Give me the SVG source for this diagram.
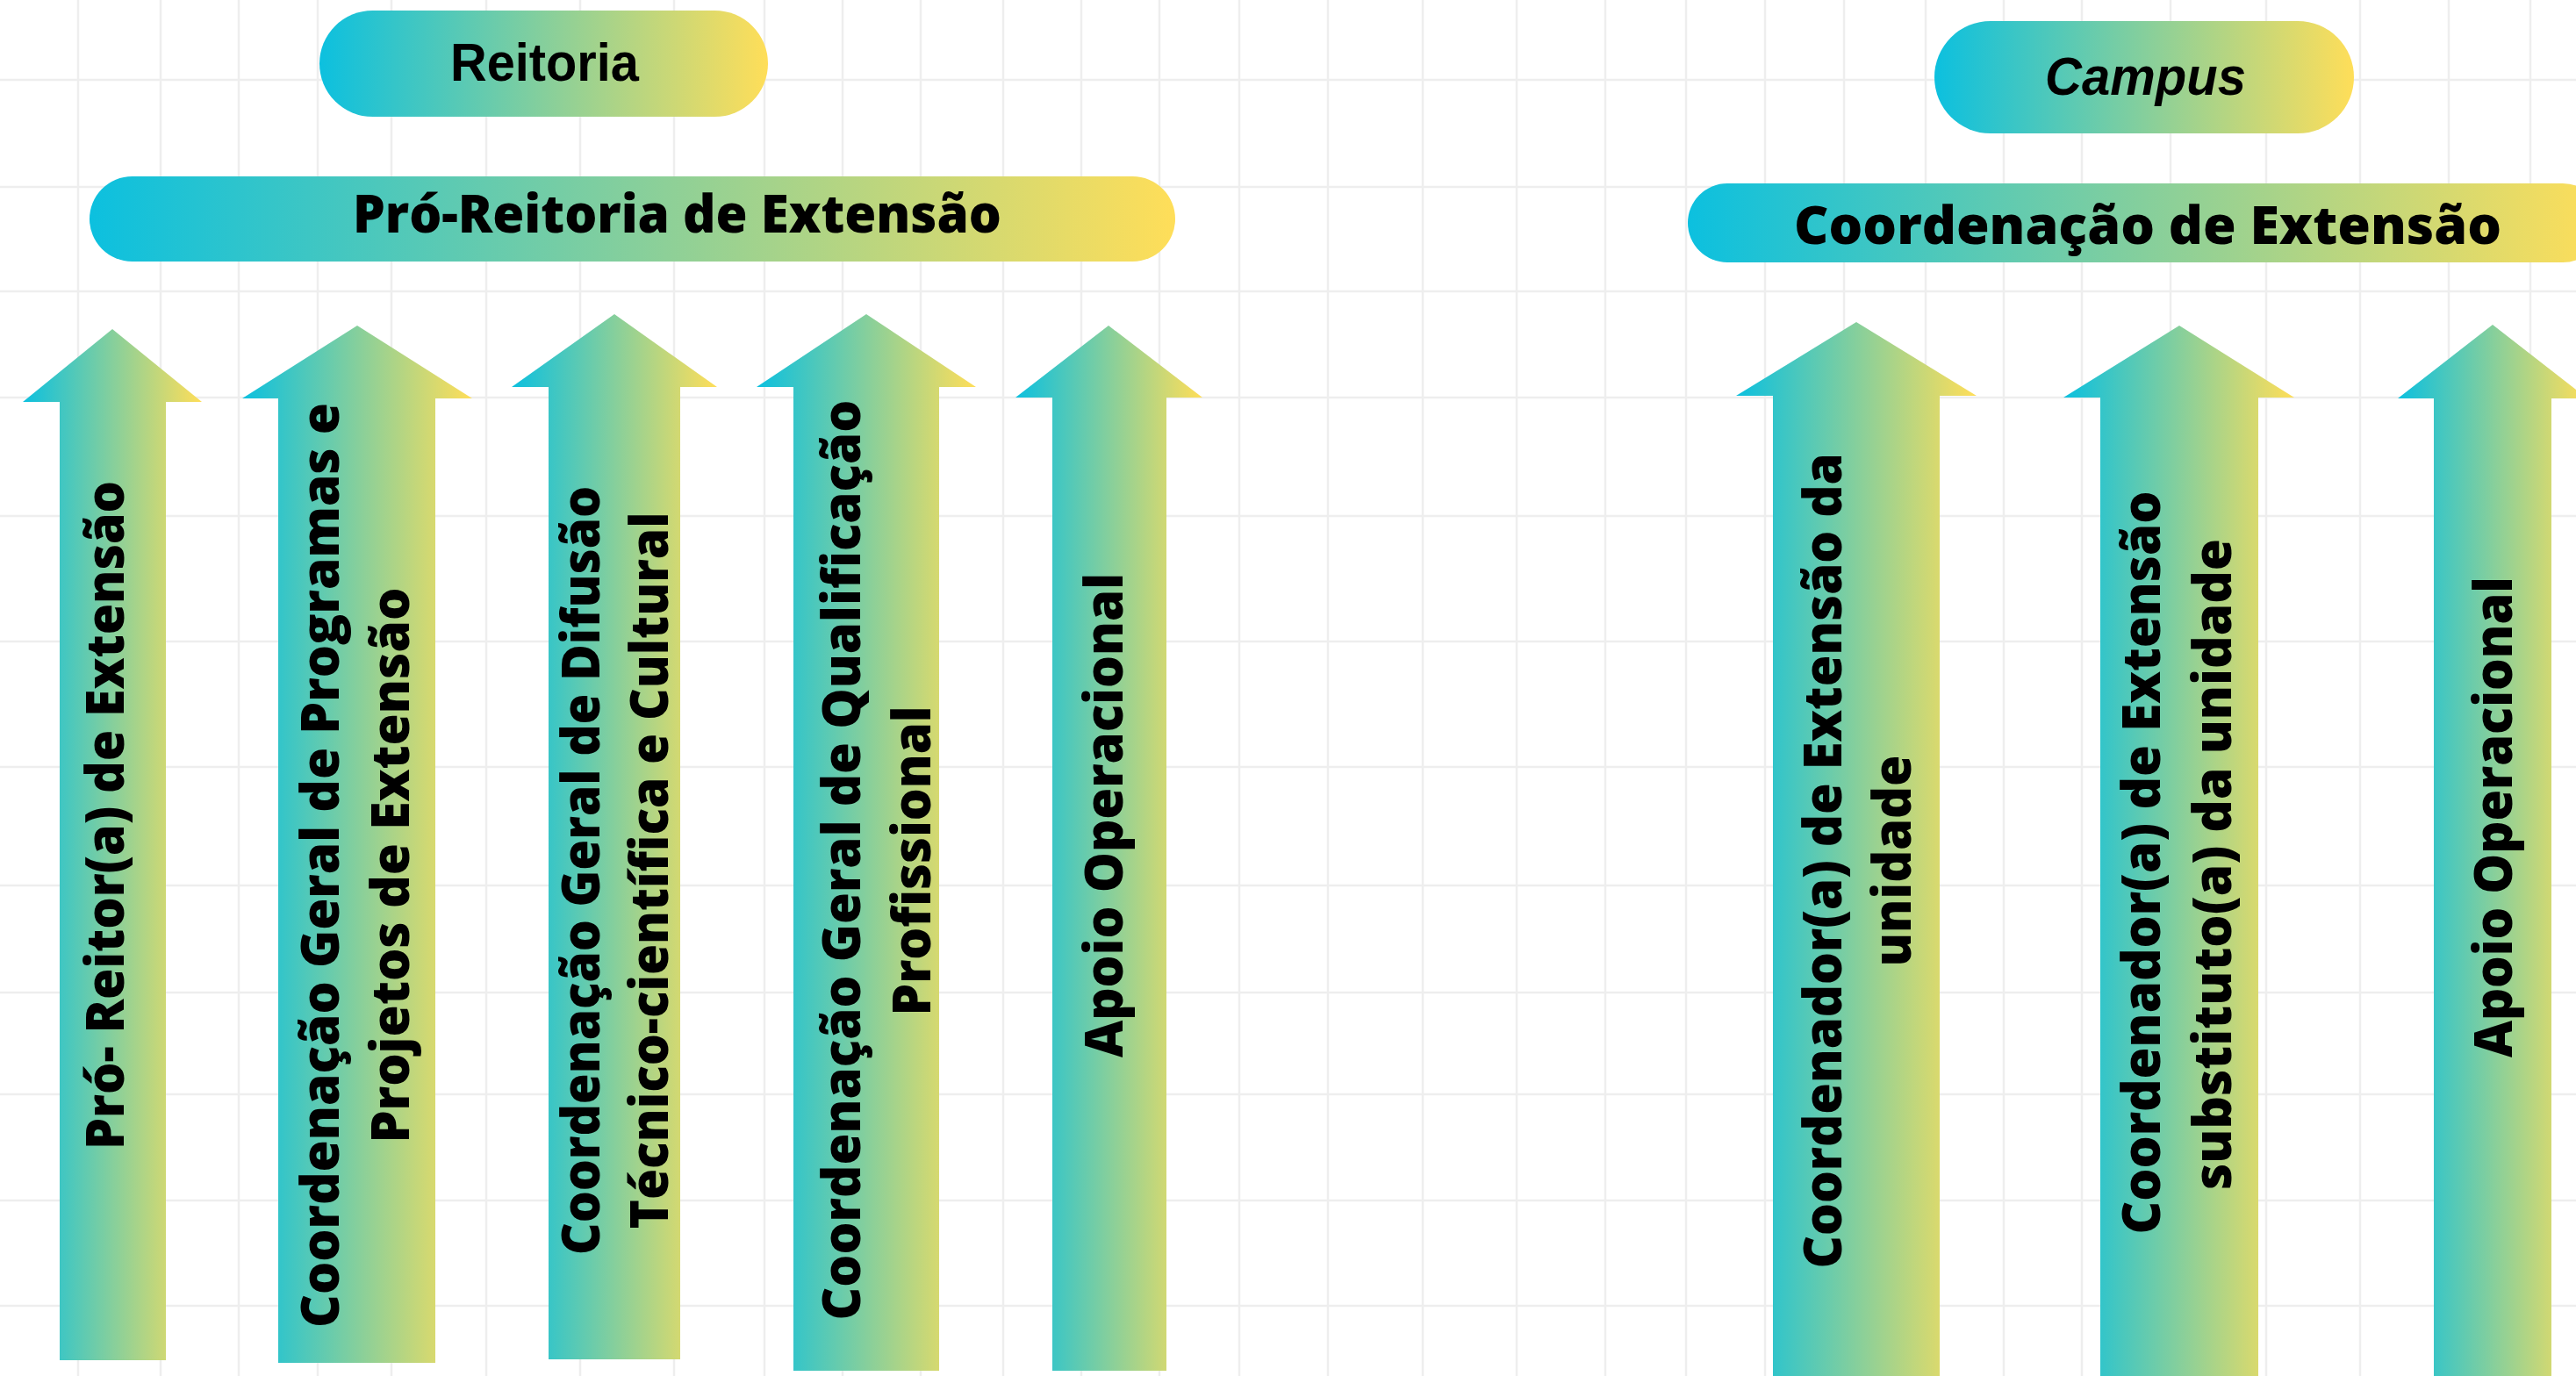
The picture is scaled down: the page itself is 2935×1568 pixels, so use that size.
<svg xmlns="http://www.w3.org/2000/svg" width="2935" height="1568" viewBox="0 0 2935 1568">
  <defs>
    <linearGradient id="grad" x1="0" y1="0" x2="1" y2="0">
      <stop offset="0" stop-color="#0cc0df"/>
      <stop offset="1" stop-color="#ffde59"/>
    </linearGradient>
    <style>
      .grid line { stroke: #eeeeee; stroke-width: 2.5; }
      .shape { fill: url(#grad); }
      .lbl { font-family: "Open Sans", "Noto Sans", "DejaVu Sans", sans-serif; font-weight: 800; font-size: 61px; fill: #000; }
      .head { font-family: "Liberation Sans", Arial, sans-serif; font-weight: 700; font-size: 61px; fill: #000; }
    </style>
  </defs>
  <rect width="2935" height="1568" fill="#ffffff"/>
  <g class="grid">
    <line x1="89" y1="0" x2="89" y2="1568"/>
    <line x1="183" y1="0" x2="183" y2="1568"/>
    <line x1="272" y1="0" x2="272" y2="1568"/>
    <line x1="362" y1="0" x2="362" y2="1568"/>
    <line x1="446" y1="0" x2="446" y2="1568"/>
    <line x1="554" y1="0" x2="554" y2="1568"/>
    <line x1="661" y1="0" x2="661" y2="1568"/>
    <line x1="768" y1="0" x2="768" y2="1568"/>
    <line x1="871" y1="0" x2="871" y2="1568"/>
    <line x1="960" y1="0" x2="960" y2="1568"/>
    <line x1="1049" y1="0" x2="1049" y2="1568"/>
    <line x1="1143" y1="0" x2="1143" y2="1568"/>
    <line x1="1232" y1="0" x2="1232" y2="1568"/>
    <line x1="1321" y1="0" x2="1321" y2="1568"/>
    <line x1="1412" y1="0" x2="1412" y2="1568"/>
    <line x1="1513" y1="0" x2="1513" y2="1568"/>
    <line x1="1621" y1="0" x2="1621" y2="1568"/>
    <line x1="1728" y1="0" x2="1728" y2="1568"/>
    <line x1="1829" y1="0" x2="1829" y2="1568"/>
    <line x1="1921" y1="0" x2="1921" y2="1568"/>
    <line x1="2011" y1="0" x2="2011" y2="1568"/>
    <line x1="2101" y1="0" x2="2101" y2="1568"/>
    <line x1="2194" y1="0" x2="2194" y2="1568"/>
    <line x1="2283" y1="0" x2="2283" y2="1568"/>
    <line x1="2372" y1="0" x2="2372" y2="1568"/>
    <line x1="2473" y1="0" x2="2473" y2="1568"/>
    <line x1="2582" y1="0" x2="2582" y2="1568"/>
    <line x1="2689" y1="0" x2="2689" y2="1568"/>
    <line x1="2790" y1="0" x2="2790" y2="1568"/>
    <line x1="2883" y1="0" x2="2883" y2="1568"/>
    <line x1="0" y1="91" x2="2935" y2="91"/>
    <line x1="0" y1="213" x2="2935" y2="213"/>
    <line x1="0" y1="332" x2="2935" y2="332"/>
    <line x1="0" y1="453" x2="2935" y2="453"/>
    <line x1="0" y1="588" x2="2935" y2="588"/>
    <line x1="0" y1="731" x2="2935" y2="731"/>
    <line x1="0" y1="874" x2="2935" y2="874"/>
    <line x1="0" y1="1009" x2="2935" y2="1009"/>
    <line x1="0" y1="1131" x2="2935" y2="1131"/>
    <line x1="0" y1="1247" x2="2935" y2="1247"/>
    <line x1="0" y1="1368" x2="2935" y2="1368"/>
    <line x1="0" y1="1488" x2="2935" y2="1488"/>
  </g>

  <g id="reitoria">
    <rect class="shape" x="364" y="12" width="511" height="121" rx="60.5"/>
    <text class="head" x="513" y="92" textLength="215" lengthAdjust="spacingAndGlyphs">Reitoria</text>
  </g>
  <g id="pro-reitoria">
    <rect class="shape" x="102" y="201" width="1237" height="97" rx="48.5"/>
    <text class="lbl" x="402" y="265" textLength="739" lengthAdjust="spacingAndGlyphs">Pró-Reitoria de Extensão</text>
  </g>
  <g id="campus">
    <rect class="shape" x="2204" y="24" width="478" height="128" rx="64"/>
    <text class="head" font-style="italic" x="2330" y="108" textLength="229" lengthAdjust="spacingAndGlyphs">Campus</text>
  </g>
  <g id="coord-extensao">
    <rect class="shape" x="1923" y="209" width="1042" height="90" rx="45"/>
    <text class="lbl" x="2044" y="278" textLength="806" lengthAdjust="spacingAndGlyphs">Coordenação de Extensão</text>
  </g>

  <g id="arrow-pro-reitor">
    <polygon class="shape" points="128,375 230,458 189,458 189,1550 68,1550 68,458 26,458"/>
    <text class="lbl" text-anchor="middle" transform="translate(141,929) rotate(-90)" textLength="762" lengthAdjust="spacingAndGlyphs">Pró- Reitor(a) de Extensão</text>
  </g>
  <g id="arrow-programas">
    <polygon class="shape" points="407,371 538,454 496,454 496,1553 317,1553 317,454 276,454"/>
    <text class="lbl" text-anchor="middle" transform="translate(386,986) rotate(-90)" textLength="1054" lengthAdjust="spacingAndGlyphs">Coordenação Geral de Programas e</text>
    <text class="lbl" text-anchor="middle" transform="translate(466,986) rotate(-90)" textLength="633" lengthAdjust="spacingAndGlyphs">Projetos de Extensão</text>
  </g>
  <g id="arrow-difusao">
    <polygon class="shape" points="700,358 817,441 775,441 775,1549 625,1549 625,441 583,441"/>
    <text class="lbl" text-anchor="middle" transform="translate(683,992) rotate(-90)" textLength="876" lengthAdjust="spacingAndGlyphs">Coordenação Geral de Difusão</text>
    <text class="lbl" text-anchor="middle" transform="translate(761,992) rotate(-90)" textLength="817" lengthAdjust="spacingAndGlyphs">Técnico-científica e Cultural</text>
  </g>
  <g id="arrow-qualificacao">
    <polygon class="shape" points="987,358 1112,441 1070,441 1070,1562 904,1562 904,441 862,441"/>
    <text class="lbl" text-anchor="middle" transform="translate(980,980) rotate(-90)" textLength="1049" lengthAdjust="spacingAndGlyphs">Coordenação Geral de Qualificação</text>
    <text class="lbl" text-anchor="middle" transform="translate(1060,981) rotate(-90)" textLength="353" lengthAdjust="spacingAndGlyphs">Profissional</text>
  </g>
  <g id="arrow-apoio-reitoria">
    <polygon class="shape" points="1263,371 1370,453 1329,453 1329,1562 1199,1562 1199,453 1157,453"/>
    <text class="lbl" text-anchor="middle" transform="translate(1279,929) rotate(-90)" textLength="552" lengthAdjust="spacingAndGlyphs">Apoio Operacional</text>
  </g>

  <g id="arrow-coordenador">
    <polygon class="shape" points="2115,367 2252,451 2210,451 2210,1570 2020,1570 2020,451 1978,451"/>
    <text class="lbl" text-anchor="middle" transform="translate(2098,981) rotate(-90)" textLength="929" lengthAdjust="spacingAndGlyphs">Coordenador(a) de Extensão da</text>
    <text class="lbl" text-anchor="middle" transform="translate(2177,981) rotate(-90)" textLength="241" lengthAdjust="spacingAndGlyphs">unidade</text>
  </g>
  <g id="arrow-substituto">
    <polygon class="shape" points="2483,371 2614,453 2573,453 2573,1570 2393,1570 2393,453 2351,453"/>
    <text class="lbl" text-anchor="middle" transform="translate(2461,983) rotate(-90)" textLength="847" lengthAdjust="spacingAndGlyphs">Coordenador(a) de Extensão</text>
    <text class="lbl" text-anchor="middle" transform="translate(2542,985) rotate(-90)" textLength="742" lengthAdjust="spacingAndGlyphs">substituto(a) da unidade</text>
  </g>
  <g id="arrow-apoio-campus">
    <polygon class="shape" points="2840,370 2948,454 2907,454 2907,1570 2773,1570 2773,454 2732,454"/>
    <text class="lbl" text-anchor="middle" transform="translate(2862,931) rotate(-90)" textLength="548" lengthAdjust="spacingAndGlyphs">Apoio Operacional</text>
  </g>

  <g id="connectors"/>
</svg>
